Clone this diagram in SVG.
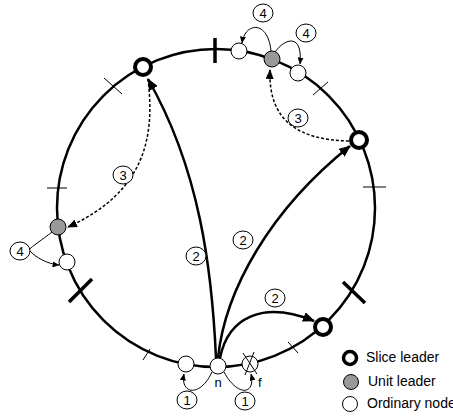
<svg xmlns="http://www.w3.org/2000/svg" width="453" height="418" viewBox="0 0 453 418">
  <style>
    .ring { fill: none; stroke: #000; stroke-width: 2.5; }
    .tick { stroke: #000; stroke-width: 1; }
    .tick-major { stroke: #000; stroke-width: 3.5; }
    .join { fill: none; stroke: #000; stroke-width: 2.5; }
    .lookup { fill: none; stroke: #000; stroke-width: 1.5; stroke-dasharray: 3 2; }
    .local { fill: none; stroke: #000; stroke-width: 1; }
    .slice { fill: #fff; stroke: #000; stroke-width: 4; }
    .unit { fill: #999; stroke: #000; stroke-width: 1; }
    .ordinary { fill: #fff; stroke: #000; stroke-width: 1; }
    .step { fill: #fff; stroke: #000; stroke-width: 1; }
    text { font-family: "Liberation Sans", Arial, sans-serif; font-size: 13px; fill: #000; }
    .num { text-anchor: middle; }
    .key { font-size: 14px; }
  </style>
  <defs>
    <marker id="ahBig" markerUnits="userSpaceOnUse" markerWidth="12" markerHeight="10" refX="11" refY="5" orient="auto">
      <path d="M0,0 L12,5 L0,10 Z" fill="#000"/>
    </marker>
    <marker id="ahMid" markerUnits="userSpaceOnUse" markerWidth="10" markerHeight="8" refX="9" refY="4" orient="auto">
      <path d="M0,0 L10,4 L0,8 Z" fill="#000"/>
    </marker>
    <marker id="ahSmall" markerUnits="userSpaceOnUse" markerWidth="7" markerHeight="6" refX="6.5" refY="3" orient="auto">
      <path d="M0,0 L7,3 L0,6 Z" fill="#000"/>
    </marker>
  </defs>

  <!-- ring -->
  <g id="ring">
    <circle class="ring" cx="216" cy="208" r="159"/>
    <line class="tick-major" x1="215" y1="38" x2="215" y2="63"/>
    <line class="tick-major" x1="69" y1="302" x2="92" y2="279"/>
    <line class="tick-major" x1="343" y1="282" x2="365" y2="303"/>
    <line class="tick" x1="363" y1="187" x2="386" y2="187"/>
    <line class="tick" x1="47" y1="188" x2="67" y2="188"/>
    <line class="tick" x1="104" y1="78" x2="122" y2="94"/>
    <line class="tick" x1="313" y1="95" x2="328" y2="82"/>
    <line class="tick" x1="143" y1="360" x2="150" y2="349"/>
    <line class="tick" x1="288" y1="342" x2="298" y2="353"/>
  </g>

  <!-- connectors -->
  <g id="connectors">
    <!-- step 1: n to its neighbours -->
    <path class="local" d="M212,372 C200,398 180,394 184,374" marker-end="url(#ahSmall)"/>
    <path class="local" d="M224,372 C238,398 256,394 251,374" marker-end="url(#ahSmall)"/>
    <!-- step 2: n to slice leaders -->
    <path class="join" d="M216,358 C212,270 200,170 148,79" marker-end="url(#ahBig)"/>
    <path class="join" d="M218,358 C225,290 270,210 350,146" marker-end="url(#ahBig)"/>
    <path class="join" d="M220,358 C228,318 262,300 314,321" marker-end="url(#ahBig)"/>
    <!-- step 3: slice leaders to unit leaders -->
    <path class="lookup" d="M349,141 C300,140 268,122 270,70" marker-end="url(#ahMid)"/>
    <path class="lookup" d="M148,79 C154,130 150,190 68,227" marker-end="url(#ahMid)"/>
    <!-- step 4: unit leaders to ordinary nodes -->
    <path class="local" d="M271,51 C268,20 245,22 242,43" marker-end="url(#ahSmall)"/>
    <path class="local" d="M275,52 C285,38 303,33 300,64" marker-end="url(#ahSmall)"/>
    <path class="local" d="M52,232 C42,240 32,246 29,250 C36,258 48,264 59,265" marker-end="url(#ahSmall)"/>
  </g>

  <!-- step labels -->
  <g id="labels">
    <ellipse class="step" cx="187" cy="400" rx="10" ry="9"/><text class="num" x="187" y="405">1</text>
    <ellipse class="step" cx="245" cy="401" rx="10" ry="9"/><text class="num" x="245" y="406">1</text>
    <ellipse class="step" cx="196" cy="256" rx="10" ry="9"/><text class="num" x="196" y="261">2</text>
    <ellipse class="step" cx="243" cy="240" rx="10" ry="9"/><text class="num" x="243" y="245">2</text>
    <ellipse class="step" cx="275" cy="298" rx="10" ry="9"/><text class="num" x="275" y="303">2</text>
    <ellipse class="step" cx="298" cy="118" rx="10" ry="9"/><text class="num" x="298" y="123">3</text>
    <ellipse class="step" cx="123" cy="175" rx="10" ry="9"/><text class="num" x="123" y="180">3</text>
    <ellipse class="step" cx="263" cy="13" rx="10" ry="9"/><text class="num" x="263" y="18">4</text>
    <ellipse class="step" cx="306" cy="33" rx="10" ry="9"/><text class="num" x="306" y="38">4</text>
    <ellipse class="step" cx="20" cy="251" rx="10" ry="9"/><text class="num" x="20" y="256">4</text>
  </g>

  <!-- nodes -->
  <g id="slice-leader-top"><circle class="slice" cx="143" cy="67" r="8"/></g>
  <g id="slice-leader-right"><circle class="slice" cx="359" cy="140" r="8"/></g>
  <g id="slice-leader-bottom"><circle class="slice" cx="323" cy="327" r="8"/></g>
  <g id="unit-leader-top"><circle class="unit" cx="272" cy="59" r="8"/></g>
  <g id="unit-leader-left"><circle class="unit" cx="58" cy="227" r="8"/></g>
  <g id="node-top-a"><circle class="ordinary" cx="239" cy="51" r="8"/></g>
  <g id="node-top-b"><circle class="ordinary" cx="298" cy="73" r="8"/></g>
  <g id="node-left"><circle class="ordinary" cx="67" cy="262" r="8"/></g>
  <g id="node-pred"><circle class="ordinary" cx="186" cy="364" r="8"/></g>
  <g id="node-n">
    <circle class="ordinary" cx="218" cy="366" r="8"/>
    <text class="num" x="218" y="387">n</text>
  </g>
  <g id="node-f">
    <circle class="ordinary" cx="250" cy="364" r="8"/>
    <line class="tick" x1="243" y1="353" x2="257" y2="374"/>
    <line class="tick" x1="245" y1="375" x2="254" y2="352"/>
    <text x="258" y="387">f</text>
  </g>

  <!-- legend -->
  <g id="legend">
    <circle cx="350" cy="358" r="6.5" fill="#fff" stroke="#000" stroke-width="3.5"/>
    <text class="key" x="366" y="362">Slice leader</text>
    <circle cx="351" cy="382" r="7.5" fill="#999" stroke="#000" stroke-width="1"/>
    <text class="key" x="368" y="386">Unit leader</text>
    <circle cx="350" cy="404" r="7.5" fill="#fff" stroke="#000" stroke-width="1"/>
    <text class="key" x="367" y="408">Ordinary node</text>
  </g>
</svg>
